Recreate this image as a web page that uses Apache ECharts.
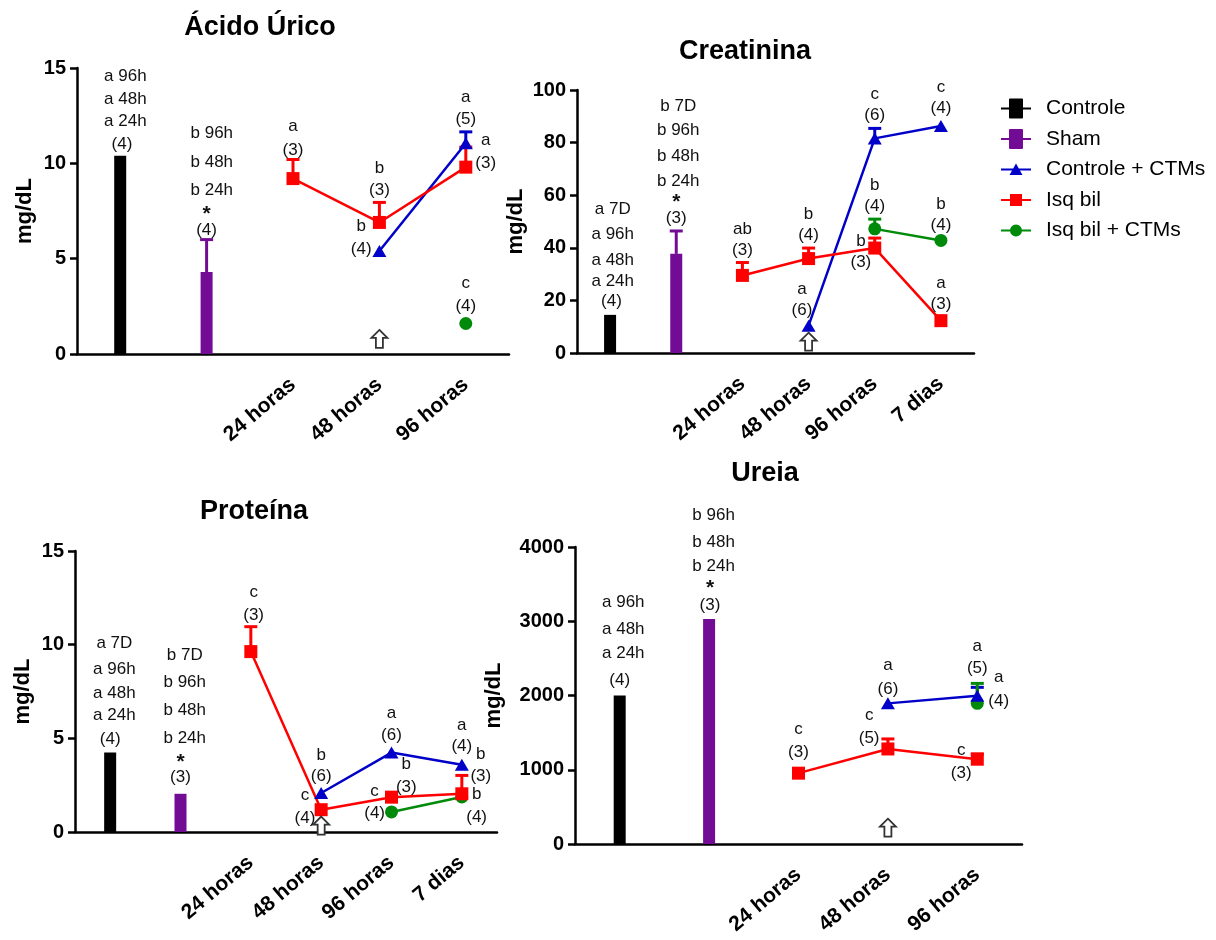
<!DOCTYPE html>
<html>
<head>
<meta charset="utf-8">
<script src="https://cdn.jsdelivr.net/npm/echarts@6/dist/echarts.min.js"></script>
<style>
  html, body { margin: 0; padding: 0; background: #fff; }
  #chart { width: 1216px; height: 940px; }
</style>
</head>
<body>
<div id="chart"></div>
<script>
const FONT = "'Liberation Sans', Arial, sans-serif";

const seriesNames = ['Controle', 'Sham', 'Controle + CTMs', 'Isq bil', 'Isq bil + CTMs'];

// --- Ácido Úrico ---
const uricoCats = ['', ' ', '24 horas', '48 horas', '96 horas'];
const uricoControle = [10.4, '-', '-', '-', '-'];
const uricoSham = ['-', 4.3, '-', '-', '-'];
const uricoShamTop = ['-', 6.0, '-', '-', '-'];
const uricoCtms = ['-', '-', '-', 5.4, 11.05];
const uricoCtmsTop = ['-', '-', '-', '-', 11.65];
const uricoIsq = ['-', '-', 9.2, 6.9, 9.8];
const uricoIsqTop = ['-', '-', 10.2, 7.95, 10.85];
const uricoIsqCtms = ['-', '-', '-', '-', 1.6];
const uricoIsqCtmsTop = ['-', '-', '-', '-', '-'];
const uricoArrow = [3, 0.79];
// [category, value, text, shift in bands]
const uricoNotes = [
  [0, 14.55, 'a 96h', 0.06], [0, 13.35, 'a 48h', 0.06], [0, 12.2, 'a 24h', 0.06], [0, 11.01, '(4)', 0.02],
  [1, 11.57, 'b 96h', 0.06], [1, 10.05, 'b 48h', 0.06], [1, 8.56, 'b 24h', 0.06], [1, 7.35, '*', 0], [1, 6.5, '(4)', 0],
  [2, 11.92, 'a', 0], [2, 10.7, '(3)', 0],
  [3, 9.74, 'b', 0], [3, 8.56, '(3)', 0],
  [3, 6.68, 'b', -0.21], [3, 5.49, '(4)', -0.21],
  [4, 13.46, 'a', 0], [4, 12.31, '(5)', 0],
  [4, 11.19, 'a', 0.23], [4, 10.0, '(3)', 0.23],
  [4, 3.71, 'c', 0], [4, 2.52, '(4)', 0]
];

// --- Creatinina ---
const creaCats = ['', ' ', '24 horas', '48 horas', '96 horas', '7 dias'];
const creaControle = [14.5, '-', '-', '-', '-', '-'];
const creaSham = ['-', 37.7, '-', '-', '-', '-'];
const creaShamTop = ['-', 46.4, '-', '-', '-', '-'];
const creaCtms = ['-', '-', '-', 10.4, 81.6, 86.3];
const creaCtmsTop = ['-', '-', '-', '-', 85.4, '-'];
const creaIsq = ['-', '-', 29.5, 35.9, 39.9, 12.3];
const creaIsqTop = ['-', '-', 34.4, 39.9, 43.7, '-'];
const creaIsqCtms = ['-', '-', '-', '-', 47.2, 42.8];
const creaIsqCtmsTop = ['-', '-', '-', '-', 50.9, '-'];
const creaArrow = [3, 4.3];
const creaNotes = [
  [0, 54.8, 'a 7D', 0.04], [0, 45.2, 'a 96h', 0.04], [0, 35.4, 'a 48h', 0.04], [0, 27.2, 'a 24h', 0.04], [0, 19.6, '(4)', 0.02],
  [1, 93.9, 'b 7D', 0.03], [1, 84.5, 'b 96h', 0.03], [1, 74.7, 'b 48h', 0.03], [1, 65.4, 'b 24h', 0.03], [1, 57.35, '*', 0], [1, 51.1, '(3)', 0],
  [2, 47.2, 'ab', 0], [2, 39.2, '(3)', 0],
  [3, 52.9, 'b', 0], [3, 44.9, '(4)', 0],
  [3, 24.4, 'a', -0.1], [3, 16.4, '(6)', -0.1],
  [4, 98.4, 'c', 0], [4, 90.5, '(6)', 0],
  [4, 63.7, 'b', 0], [4, 55.7, '(4)', 0],
  [4, 42.4, 'b', -0.21], [4, 34.4, '(3)', -0.21],
  [5, 101.0, 'c', 0], [5, 93.0, '(4)', 0],
  [5, 56.7, 'b', 0], [5, 48.7, '(4)', 0],
  [5, 26.6, 'a', 0], [5, 18.7, '(3)', 0]
];

// --- Proteína ---
const protCats = ['', ' ', '24 horas', '48 horas', '96 horas', '7 dias'];
const protControle = [4.24, '-', '-', '-', '-', '-'];
const protSham = ['-', 2.04, '-', '-', '-', '-'];
const protShamTop = ['-', '-', '-', '-', '-', '-'];
const protCtms = ['-', '-', '-', 2.08, 4.24, 3.59];
const protCtmsTop = ['-', '-', '-', '-', '-', '-'];
const protIsq = ['-', '-', 9.63, 1.19, 1.86, 2.04];
const protIsqTop = ['-', '-', 10.96, '-', '-', 3.02];
const protIsqCtms = ['-', '-', '-', '-', 1.07, 1.87];
const protIsqCtmsTop = ['-', '-', '-', '-', '-', '-'];
const protArrow = [3, 0.34];
const protNotes = [
  [0, 10.07, 'a 7D', 0.06], [0, 8.69, 'a 96h', 0.06], [0, 7.41, 'a 48h', 0.06], [0, 6.22, 'a 24h', 0.06], [0, 4.97, '(4)', 0],
  [1, 9.45, 'b 7D', 0.06], [1, 8.0, 'b 96h', 0.06], [1, 6.52, 'b 48h', 0.06], [1, 5.01, 'b 24h', 0.06], [1, 3.75, '*', 0], [1, 2.93, '(3)', 0],
  [2, 12.79, 'c', 0.04], [2, 11.58, '(3)', 0.04],
  [3, 4.08, 'b', 0], [3, 2.96, '(6)', 0],
  [3, 1.95, 'c', -0.23], [3, 0.71, '(4)', -0.23],
  [4, 6.34, 'a', 0], [4, 5.15, '(6)', 0],
  [4, 3.59, 'b', 0.21], [4, 2.4, '(3)', 0.21],
  [4, 2.16, 'c', -0.24], [4, 1.01, '(4)', -0.24],
  [5, 5.68, 'a', 0], [5, 4.56, '(4)', 0],
  [5, 4.17, 'b', 0.27], [5, 2.96, '(3)', 0.27],
  [5, 2.03, 'b', 0.21], [5, 0.8, '(4)', 0.21]
];

// --- Ureia ---
const ureiaCats = ['', ' ', '24 horas', '48 horas', '96 horas'];
const ureiaControle = [2000, '-', '-', '-', '-'];
const ureiaSham = ['-', 3030, '-', '-', '-'];
const ureiaShamTop = ['-', '-', '-', '-', '-'];
const ureiaCtms = ['-', '-', '-', 1894, 1997];
const ureiaCtmsTop = ['-', '-', '-', '-', 2110];
const ureiaIsq = ['-', '-', 954, 1280, 1142];
const ureiaIsqTop = ['-', '-', '-', 1415, 1213];
const ureiaIsqCtms = ['-', '-', '-', '-', 1894];
const ureiaIsqCtmsTop = ['-', '-', '-', '-', 2163];
const ureiaArrow = [3, 220];
const ureiaNotes = [
  [0, 3260, 'a 96h', 0.04], [0, 2889, 'a 48h', 0.04], [0, 2567, 'a 24h', 0.04], [0, 2208, '(4)', 0],
  [1, 4425, 'b 96h', 0.05], [1, 4058, 'b 48h', 0.05], [1, 3740, 'b 24h', 0.05], [1, 3445, '*', 0.01], [1, 3216, '(3)', 0.01],
  [2, 1549, 'c', 0], [2, 1231, '(3)', 0],
  [3, 1737, 'c', -0.21], [3, 1424, '(5)', -0.21],
  [3, 2409, 'a', 0], [3, 2087, '(6)', 0],
  [4, 2669, 'a', 0], [4, 2365, '(5)', 0],
  [4, 2239, 'a', 0.24], [4, 1916, '(4)', 0.24],
  [4, 1267, 'c', -0.18], [4, 954, '(3)', -0.18]
];

const colors = {
  controle: '#000000',
  sham: '#730C95',
  ctms: '#0000C8',
  isq: '#FF0000',
  isqCtms: '#008A0A'
};

const panels = [
  { title: 'Ácido Úrico', titleX: 260, titleY: 14, max: 15, step: 5, nameGap: 41,
    grid: { left: 77, top: 68, width: 432, height: 286 },
    cats: uricoCats, controle: uricoControle, sham: uricoSham, shamTop: uricoShamTop,
    ctms: uricoCtms, ctmsTop: uricoCtmsTop, isq: uricoIsq, isqTop: uricoIsqTop,
    isqCtms: uricoIsqCtms, isqCtmsTop: uricoIsqCtmsTop, arrow: uricoArrow, notes: uricoNotes },
  { title: 'Creatinina', titleX: 745, titleY: 38, max: 100, step: 20, nameGap: 50,
    grid: { left: 577, top: 90, width: 397, height: 263 },
    cats: creaCats, controle: creaControle, sham: creaSham, shamTop: creaShamTop,
    ctms: creaCtms, ctmsTop: creaCtmsTop, isq: creaIsq, isqTop: creaIsqTop,
    isqCtms: creaIsqCtms, isqCtmsTop: creaIsqCtmsTop, arrow: creaArrow, notes: creaNotes },
  { title: 'Proteína', titleX: 254, titleY: 498, max: 15, step: 5, nameGap: 41,
    grid: { left: 75, top: 551, width: 422, height: 281 },
    cats: protCats, controle: protControle, sham: protSham, shamTop: protShamTop,
    ctms: protCtms, ctmsTop: protCtmsTop, isq: protIsq, isqTop: protIsqTop,
    isqCtms: protIsqCtms, isqCtmsTop: protIsqCtmsTop, arrow: protArrow, notes: protNotes },
  { title: 'Ureia', titleX: 765, titleY: 460, max: 4000, step: 1000, nameGap: 70,
    grid: { left: 575, top: 547, width: 447, height: 297 },
    cats: ureiaCats, controle: ureiaControle, sham: ureiaSham, shamTop: ureiaShamTop,
    ctms: ureiaCtms, ctmsTop: ureiaCtmsTop, isq: ureiaIsq, isqTop: ureiaIsqTop,
    isqCtms: ureiaIsqCtms, isqCtmsTop: ureiaIsqCtmsTop, arrow: ureiaArrow, notes: ureiaNotes }
];

function barSeries(idx, name, data, color) {
  return {
    type: 'bar', name: name, xAxisIndex: idx, yAxisIndex: idx,
    data: data, barWidth: 12, barGap: '-100%',
    itemStyle: { color: color }, z: 2
  };
}

function lineSeries(idx, name, data, color, symbol, size) {
  return {
    type: 'line', name: name, xAxisIndex: idx, yAxisIndex: idx,
    data: data, symbol: symbol, symbolSize: size, showSymbol: true,
    lineStyle: { color: color, width: 2.5 }, itemStyle: { color: color }, z: 5
  };
}

// one-sided (upper) error bars
function errorBars(idx, means, tops, color) {
  const pts = [];
  means.forEach((m, i) => {
    if (m !== '-' && tops[i] !== '-') pts.push([i, m, tops[i]]);
  });
  return {
    type: 'custom', xAxisIndex: idx, yAxisIndex: idx, silent: true, z: 4,
    data: pts, encode: { x: 0, y: [1, 2] },
    renderItem: function (params, api) {
      const a = api.coord([api.value(0), api.value(1)]);
      const b = api.coord([api.value(0), api.value(2)]);
      const st = { stroke: color, lineWidth: 3 };
      return {
        type: 'group',
        children: [
          { type: 'line', shape: { x1: a[0], y1: a[1], x2: b[0], y2: b[1] }, style: st },
          { type: 'line', shape: { x1: b[0] - 6.5, y1: b[1], x2: b[0] + 6.5, y2: b[1] }, style: st }
        ]
      };
    }
  };
}

function noteSeries(idx, list) {
  return {
    type: 'custom', xAxisIndex: idx, yAxisIndex: idx, silent: true, z: 10,
    data: list.map(n => [n[0], n[1]]), encode: { x: 0, y: 1 },
    renderItem: function (params, api) {
      const n = list[params.dataIndex];
      const p = api.coord([n[0], n[1]]);
      const band = api.size([1, 0])[0];
      const star = n[2] === '*';
      return {
        type: 'text', x: p[0] + n[3] * band, y: p[1],
        style: {
          text: n[2], align: 'center', verticalAlign: 'middle', fill: '#111',
          font: (star ? 'bold 21px ' : '17px ') + FONT
        }
      };
    }
  };
}

function arrowSeries(idx, pos) {
  return {
    type: 'custom', xAxisIndex: idx, yAxisIndex: idx, silent: true, z: 6,
    data: [pos], encode: { x: 0, y: 1 },
    renderItem: function (params, api) {
      const p = api.coord([api.value(0), api.value(1)]);
      return {
        type: 'polygon', x: p[0], y: p[1],
        shape: { points: [[0, -9], [8, -1], [3.5, -1], [3.5, 9], [-3.5, 9], [-3.5, -1], [-8, -1]] },
        style: { fill: '#fff', stroke: '#333', lineWidth: 1.8 }
      };
    }
  };
}

const grid = [], xAxis = [], yAxis = [], title = [], series = [];

panels.forEach((p, i) => {
  grid.push(p.grid);
  title.push({
    text: p.title, left: p.titleX, top: p.titleY, textAlign: 'center', padding: 0,
    textStyle: { fontFamily: FONT, fontSize: 27, fontWeight: 'bold', color: '#000' }
  });
  xAxis.push({
    type: 'category', gridIndex: i, data: p.cats, boundaryGap: true,
    axisLine: { lineStyle: { color: '#000', width: 2.5 } },
    axisTick: { alignWithLabel: true, length: 8, lineStyle: { color: '#000', width: 2.5 },
      interval: (idx, v) => v.trim() !== '' },
    axisLabel: { interval: 0, rotate: 40, margin: 28, color: '#000',
      fontFamily: FONT, fontSize: 21, fontWeight: 'bold' },
    splitLine: { show: false }
  });
  yAxis.push({
    type: 'value', gridIndex: i, min: 0, max: p.max, interval: p.step,
    name: 'mg/dL', nameLocation: 'middle', nameGap: p.nameGap,
    nameTextStyle: { fontFamily: FONT, fontSize: 22, fontWeight: 'bold', color: '#000' },
    axisLine: { show: true, lineStyle: { color: '#000', width: 2.5 } },
    axisTick: { show: true, length: 7, lineStyle: { color: '#000', width: 2.5 } },
    axisLabel: { margin: 11, color: '#000', fontFamily: FONT, fontSize: 20, fontWeight: 'bold',
      formatter: v => String(v) },
    splitLine: { show: false }
  });

  series.push(barSeries(i, 'Controle', p.controle, colors.controle));
  series.push(barSeries(i, 'Sham', p.sham, colors.sham));
  series.push(errorBars(i, p.sham, p.shamTop, colors.sham));
  series.push(errorBars(i, p.isq, p.isqTop, colors.isq));
  series.push(errorBars(i, p.ctms, p.ctmsTop, colors.ctms));
  series.push(errorBars(i, p.isqCtms, p.isqCtmsTop, colors.isqCtms));
  series.push(lineSeries(i, 'Isq bil + CTMs', p.isqCtms, colors.isqCtms, 'circle', 13));
  series.push(lineSeries(i, 'Controle + CTMs', p.ctms, colors.ctms, 'triangle', [14, 12]));
  series.push(lineSeries(i, 'Isq bil', p.isq, colors.isq, 'rect', 13));
  series.push(noteSeries(i, p.notes));
  series.push(arrowSeries(i, p.arrow));
});

// legend icons: 40 x 20 box, drawing in the left 30 px
const EDGE = 'M0,0L0.01,0Z M40,20L39.99,20Z ';
const LINE = 'M0,9H30V11H0Z ';
const legendIcons = {
  'Controle': 'path://' + EDGE + LINE + 'M8,1Q8,0 9,0H21Q22,0 22,1V19Q22,20 21,20H9Q8,20 8,19Z',
  'Sham': 'path://' + EDGE + LINE + 'M8,1Q8,0 9,0H21Q22,0 22,1V19Q22,20 21,20H9Q8,20 8,19Z',
  'Controle + CTMs': 'path://' + EDGE + LINE + 'M15,4L21.5,15.5H8.5Z',
  'Isq bil': 'path://' + EDGE + LINE + 'M9,4H21V16H9Z',
  'Isq bil + CTMs': 'path://' + EDGE + LINE + 'M21,10A6,6 0 1 1 9,10A6,6 0 1 1 21,10Z'
};

const option = {
  animation: false,
  backgroundColor: '#fff',
  title: title,
  grid: grid,
  xAxis: xAxis,
  yAxis: yAxis,
  legend: {
    orient: 'vertical', left: 1001, top: 98, padding: 0,
    itemWidth: 40, itemHeight: 20, itemGap: 9.5,
    textStyle: { fontFamily: FONT, fontSize: 21, color: '#000' },
    data: seriesNames.map(n => ({ name: n, icon: legendIcons[n] }))
  },
  series: series
};

const chart = echarts.init(document.getElementById('chart'));
chart.setOption(option);
</script>
</body>
</html>
